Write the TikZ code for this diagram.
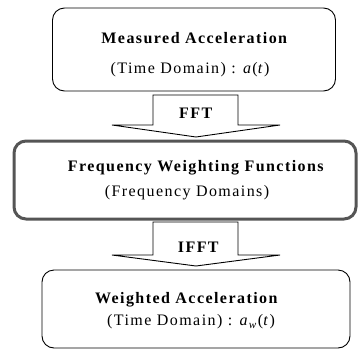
\documentclass[tikz,border=0pt]{standalone}
\usepackage{fontspec}
\setmainfont{Liberation Serif}
\definecolor{boxgray}{HTML}{555555}
\tikzset{
  stagebox/.style={draw, rounded corners=12pt, line width=0.9pt, inner sep=0pt},
  label/.style={font=\fontsize{16}{19}\selectfont\addfontfeature{LetterSpace=9}, inner sep=0pt},
  blockarrow/.style={draw, line width=0.9pt, fill=white}
}
\begin{document}
\begin{tikzpicture}[x=1pt, y=-1pt]
    \useasboundingbox (0, 0) rectangle (358, 351);
    % the three stages
    \node[stagebox, minimum width=283pt, minimum height=83pt] (measured) at (194, 49.5) {};
    \node[stagebox, draw=boxgray, line width=3pt, minimum width=342pt, minimum height=78pt] (weighting) at (185, 180) {};
    \node[stagebox, minimum width=308pt, minimum height=78pt] (weighted) at (196, 309) {};
    % texts
    \node[label] (measuredA) at (195, 38) {\textbf{Measured Acceleration}};
    \node[label] (measuredB) at (190, 70) {(Time Domain) : \textit{a}(\textit{t})};
    \node[label] (weightingA) at (196.5, 168) {\textbf{Frequency Weighting Functions}};
    \node[label] (weightingB) at (187, 193) {(Frequency Domains)};
    \node[label] (weightedA) at (187, 300) {\textbf{Weighted Acceleration}};
    \node[label] (weightedB) at (191, 322) {(Time Domain) : \textit{a}\textsubscript{\textit{w}}(\textit{t})};
    % block arrows
    \draw[blockarrow] (153, 95) -- ++(0, 30) -- ++(-41, 0) -- ++(84, 12) -- ++(84, -12) -- ++(-42, 0) -- ++(0, -30) -- cycle;
    \draw[blockarrow] (153, 222) -- ++(0, 33) -- ++(-41, 0) -- ++(84, 11) -- ++(84, -11) -- ++(-42, 0) -- ++(0, -33) -- cycle;
    \node[label] (fft) at (196.5, 113) {\textbf{FFT}};
    \node[label] (ifft) at (199, 247) {\textbf{IFFT}};
\end{tikzpicture}
\end{document}
